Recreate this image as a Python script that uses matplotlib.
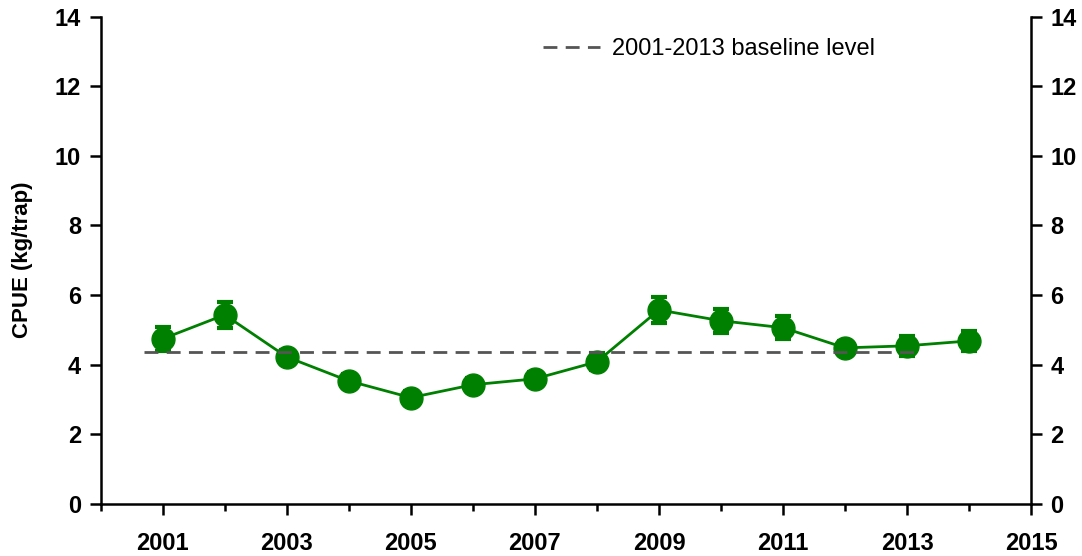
import matplotlib.pyplot as plt
import numpy as np

# data
years = [2001, 2002, 2003, 2004, 2005, 2006, 2007, 2008, 2009, 2010, 2011, 2012, 2013, 2014]
cpue = [4.74, 5.43, 4.22, 3.53, 3.05, 3.42, 3.59, 4.08, 5.57, 5.26, 5.06, 4.48, 4.54, 4.68]
err = [0.35, 0.37, 0.2, 0.2, 0.2, 0.2, 0.2, 0.24, 0.37, 0.35, 0.33, 0.2, 0.28, 0.28]
baseline = 4.37
baseline_span = [2000.7, 2013.2]

plt.rcParams['font.family'] = ['Liberation Sans', 'DejaVu Sans']

fig, ax = plt.subplots(figsize=(10.82, 5.56), dpi=100)
fig.subplots_adjust(left=0.093, right=0.953, top=0.97, bottom=0.094)

ax.plot(baseline_span, [baseline, baseline], ls=(0, (5, 3)), color='#555555', lw=2,
        label='2001-2013 baseline level', zorder=4)
ax.errorbar(years, cpue, yerr=err, fmt='-o', color='#008000', ms=16.5, lw=2,
            elinewidth=2, capsize=5.5, capthick=3, zorder=3)

ax.set_xlim(2000, 2015)
ax.set_ylim(0, 14)
ax.set_xticks(range(2001, 2016, 2))
ax.set_xticks(range(2000, 2016), minor=True)
ax.set_yticks(range(0, 15, 2))
ax.set_ylabel('CPUE (kg/trap)', fontsize=16, fontweight='bold', labelpad=16)

ax.spines['top'].set_visible(False)
for s in ['left', 'right', 'bottom']:
    ax.spines[s].set_linewidth(1.8)
ax.tick_params(axis='both', which='major', labelsize=17, width=1.8, length=8, direction='out')
ax.tick_params(axis='x', which='minor', width=1.8, length=5, direction='out')
ax.tick_params(axis='y', right=True, labelright=True, pad=6)
for lab in ax.get_xticklabels() + ax.get_yticklabels():
    lab.set_fontweight('bold')
ax.xaxis.set_tick_params(pad=12)

ax.legend(loc='upper left', bbox_to_anchor=(0.453, 1.0), frameon=False, fontsize=17,
          handlelength=2.4, handletextpad=0.5)

fig.savefig('out.png')
